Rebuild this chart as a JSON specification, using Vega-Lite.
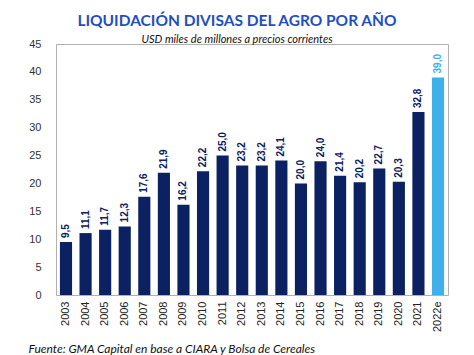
{
  "$schema": "https://vega.github.io/schema/vega-lite/v6.json",
  "width": 392,
  "height": 251,
  "autosize": {"type": "none"},
  "padding": {"left": 56, "top": 44, "right": 26, "bottom": 60},
  "title": {
    "text": "LIQUIDACIÓN  DIVISAS DEL AGRO POR AÑO",
    "subtitle": "USD miles de millones a precios corrientes",
    "anchor": "middle",
    "dx": -15,
    "offset": -7,
    "font": "Lato",
    "fontSize": 15.5,
    "fontWeight": "bold",
    "color": "#1f4fbf",
    "subtitleFont": "Lato",
    "subtitleFontSize": 11,
    "subtitleFontStyle": "italic",
    "subtitleColor": "#111111",
    "subtitlePadding": 5
  },
  "data": {
    "values": [
      {"year": "2003", "value": 9.5, "type": "real"},
      {"year": "2004", "value": 11.1, "type": "real"},
      {"year": "2005", "value": 11.7, "type": "real"},
      {"year": "2006", "value": 12.3, "type": "real"},
      {"year": "2007", "value": 17.6, "type": "real"},
      {"year": "2008", "value": 21.9, "type": "real"},
      {"year": "2009", "value": 16.2, "type": "real"},
      {"year": "2010", "value": 22.2, "type": "real"},
      {"year": "2011", "value": 25.0, "type": "real"},
      {"year": "2012", "value": 23.2, "type": "real"},
      {"year": "2013", "value": 23.2, "type": "real"},
      {"year": "2014", "value": 24.1, "type": "real"},
      {"year": "2015", "value": 20.0, "type": "real"},
      {"year": "2016", "value": 24.0, "type": "real"},
      {"year": "2017", "value": 21.4, "type": "real"},
      {"year": "2018", "value": 20.2, "type": "real"},
      {"year": "2019", "value": 22.7, "type": "real"},
      {"year": "2020", "value": 20.3, "type": "real"},
      {"year": "2021", "value": 32.8, "type": "real"},
      {"year": "2022e", "value": 39.0, "type": "estimado"}
    ]
  },
  "encoding": {
    "x": {
      "field": "year",
      "type": "nominal",
      "sort": null,
      "scale": {"paddingInner": 0.38, "paddingOuter": 0.2},
      "axis": {
        "title": "Fuente: GMA Capital en base a CIARA y Bolsa de Cereales",
        "titleFont": "Lato",
        "titleFontSize": 12,
        "titleFontStyle": "italic",
        "titleFontWeight": "normal",
        "titleColor": "#111111",
        "titleAnchor": "start",
        "titleAlign": "left",
        "titleBaseline": "middle",
        "titleX": -28,
        "titleY": 53,
        "labelAngle": -90,
        "labelAlign": "right",
        "labelBaseline": "middle",
        "labelFont": "Liberation Sans",
        "labelFontSize": 11,
        "labelColor": "#222222",
        "labelPadding": 6,
        "ticks": false,
        "domain": false
      }
    },
    "y": {
      "field": "value",
      "type": "quantitative",
      "scale": {"domain": [0, 45], "nice": false},
      "axis": {
        "title": null,
        "values": [0, 5, 10, 15, 20, 25, 30, 35, 40, 45],
        "grid": false,
        "ticks": false,
        "domain": false,
        "labelFont": "Liberation Sans",
        "labelFontSize": 11,
        "labelColor": "#333333",
        "labelPadding": 15
      }
    },
    "color": {
      "field": "type",
      "type": "nominal",
      "scale": {"domain": ["real", "estimado"], "range": ["#0b2161", "#3fb0ea"]},
      "legend": null
    }
  },
  "layer": [
    {"mark": {"type": "bar"}},
    {
      "mark": {
        "type": "text",
        "angle": 270,
        "align": "left",
        "baseline": "middle",
        "dx": 4,
        "font": "Liberation Sans",
        "fontSize": 10,
        "fontWeight": "bold"
      },
      "encoding": {
        "text": {"field": "value", "type": "quantitative", "format": ".1f"}
      }
    }
  ],
  "config": {
    "view": {"stroke": "#b0b0b0", "strokeWidth": 1},
    "locale": {
      "number": {"decimal": ",", "thousands": ".", "grouping": [3], "currency": ["$", ""]}
    }
  }
}
